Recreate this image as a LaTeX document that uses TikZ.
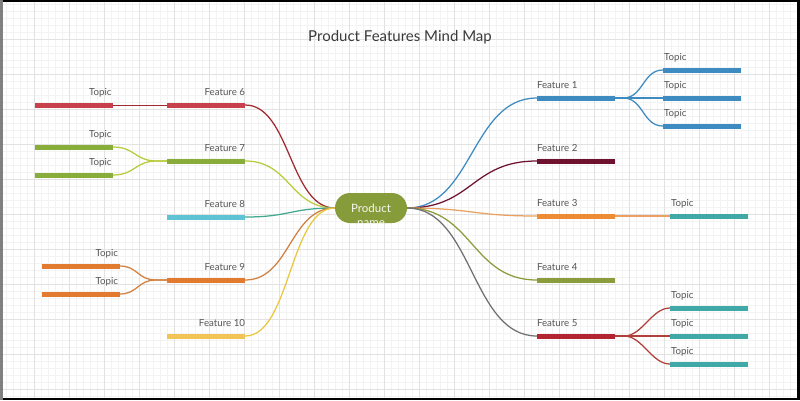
\documentclass[tikz,border=0pt]{standalone}
\usepackage{fontspec}
\setmainfont{Lato}
\definecolor{gmin}{HTML}{F3F3F3}
\definecolor{gmaj}{HTML}{E2E2E2}
\definecolor{txt}{HTML}{555555}
\definecolor{ttl}{HTML}{3A3A3A}
\definecolor{cnode}{HTML}{869B3A}
\definecolor{cblue}{HTML}{3D8BC0}
\definecolor{cmaroon}{HTML}{6E1230}
\definecolor{corange}{HTML}{EC8D35}
\definecolor{corangel}{HTML}{E9A060}
\definecolor{colive}{HTML}{8B9C3C}
\definecolor{cred}{HTML}{B22531}
\definecolor{cgray}{HTML}{707070}
\definecolor{cteal}{HTML}{40A9A8}
\definecolor{credl}{HTML}{B0403A}
\definecolor{cpink}{HTML}{C9404D}
\definecolor{cdred}{HTML}{A02A30}
\definecolor{cgreen}{HTML}{88AD3B}
\definecolor{cyg}{HTML}{B8CC3A}
\definecolor{ccyan}{HTML}{5EC3D3}
\definecolor{ctg}{HTML}{40A890}
\definecolor{corg}{HTML}{E27A30}
\definecolor{corgl}{HTML}{D08040}
\definecolor{cyel}{HTML}{F2C456}
\definecolor{cyell}{HTML}{E8C840}
\begin{document}
\begin{tikzpicture}[x=1pt,y=-1pt,
  bar/.style={rectangle, inner sep=0pt, minimum width=78pt, minimum height=5pt},
  lnk/.style={line width=1.25pt},
  lblfont/.style={font=\fontsize{9.7}{11}\selectfont, text=txt, inner sep=0pt},
  lblL/.style={lblfont, anchor=base west},
  lblR/.style={lblfont, anchor=base east},
  hub/.style={rectangle, rounded corners=15pt, minimum width=72pt, minimum height=30pt, fill=cnode, inner sep=0pt}
]
\useasboundingbox (0,0) rectangle (800,400);
\fill[white] (0,0) rectangle (800,400);
% grid
\foreach \k in {0,...,115} {\draw[gmin, line width=0.6pt] (-1+7*\k,0) -- (-1+7*\k,400);}
\foreach \k in {0,...,57} {\draw[gmin, line width=0.6pt] (0,4.5+7*\k) -- (800,4.5+7*\k);}
\foreach \k in {1,...,23} {\draw[gmaj, line width=0.9pt] (-1+35*\k,0) -- (-1+35*\k,400);}
\foreach \k in {1,...,11} {\draw[gmaj, line width=0.9pt] (0,4.5+35*\k) -- (800,4.5+35*\k);}
% frame
\fill[black] (0,0) rectangle (800,2);
\fill[black] (797,0) rectangle (800,400);
\fill[black] (0,398) rectangle (800,400);
\fill[gray] (0,0) rectangle (2.5,400);

% title
\node[font=\fontsize{15}{18}\selectfont, text=ttl] (title) at (400,37) {Product Features Mind Map};

% hub
\node[hub] (c) at (371,208) {};
\begin{scope}
\clip[rounded corners=15pt] (c.south west) rectangle (c.north east);
\node[font=\fontsize{11.5}{13}\selectfont, text=white!92!cnode, anchor=base, inner sep=0pt] (cp) at (371,212.7) {Product};
\node[font=\fontsize{11.5}{13}\selectfont, text=white!92!cnode, anchor=base, inner sep=0pt] (cn) at (371,226.5) {name};
\end{scope}

% right features
\node[bar, fill=cblue] (f1) at (576,98) {};
\node[bar, fill=cmaroon] (f2) at (576,161) {};
\node[bar, fill=corange] (f3) at (576,216) {};
\node[bar, fill=colive] (f4) at (576,280) {};
\node[bar, fill=cred] (f5) at (576,336) {};
\node[lblL] at ([yshift=9.5pt]f1.west) {Feature 1};
\node[lblL] at ([yshift=9.5pt]f2.west) {Feature 2};
\node[lblL] at ([yshift=9.5pt]f3.west) {Feature 3};
\node[lblL] at ([yshift=9.5pt]f4.west) {Feature 4};
\node[lblL] at ([yshift=9.5pt]f5.west) {Feature 5};
% right topics
\node[bar, fill=cblue] (t11) at (702,70) {};
\node[bar, fill=cblue] (t12) at (702,98) {};
\node[bar, fill=cblue] (t13) at (702,126) {};
\node[bar, fill=cteal] (t31) at (709,216) {};
\node[bar, fill=cteal] (t51) at (709,308) {};
\node[bar, fill=cteal] (t52) at (709,336) {};
\node[bar, fill=cteal] (t53) at (709,364) {};
\foreach \t in {t11,t12,t13,t31,t51,t52,t53} {\node[lblL] at ([xshift=1pt,yshift=9.5pt]\t.west) {Topic};}

% left features
\node[bar, fill=cpink] (f6) at (206,105) {};
\node[bar, fill=cgreen] (f7) at (206,161) {};
\node[bar, fill=ccyan] (f8) at (206,217) {};
\node[bar, fill=corg] (f9) at (206,280) {};
\node[bar, fill=cyel] (f10) at (206,336) {};
\node[lblR] at ([yshift=9.5pt]f6.east) {Feature 6};
\node[lblR] at ([yshift=9.5pt]f7.east) {Feature 7};
\node[lblR] at ([yshift=9.5pt]f8.east) {Feature 8};
\node[lblR] at ([yshift=9.5pt]f9.east) {Feature 9};
\node[lblR] at ([yshift=9.5pt]f10.east) {Feature 10};
% left topics
\node[bar, fill=cpink] (t61) at (74,105) {};
\node[bar, fill=cgreen] (t71) at (74,147) {};
\node[bar, fill=cgreen] (t72) at (74,175) {};
\node[bar, fill=corg] (t91) at (80.5,266) {};
\node[bar, fill=corg] (t92) at (80.5,294) {};
\foreach \t in {t61,t71,t72,t91,t92} {\node[lblR] at ([xshift=-1.5pt,yshift=9.5pt]\t.east) {Topic};}

% hub links right
\draw[lnk, cblue] (c.east) .. controls +(65.5,0) and +(-65.5,0) .. (f1.west);
\draw[lnk, cmaroon] (c.east) .. controls +(65.5,0) and +(-65.5,0) .. (f2.west);
\draw[lnk, corangel] (c.east) .. controls +(65.5,0) and +(-65.5,0) .. (f3.west);
\draw[lnk, colive] (c.east) .. controls +(65.5,0) and +(-65.5,0) .. (f4.west);
\draw[lnk, cgray] (c.east) .. controls +(65.5,0) and +(-65.5,0) .. (f5.west);
% hub links left
\draw[lnk, cdred] (c.west) .. controls +(-45,0) and +(45,0) .. (f6.east);
\draw[lnk, cyg] (c.west) .. controls +(-45,0) and +(45,0) .. (f7.east);
\draw[lnk, ctg] (c.west) .. controls +(-45,0) and +(45,0) .. (f8.east);
\draw[lnk, corgl] (c.west) .. controls +(-45,0) and +(45,0) .. (f9.east);
\draw[lnk, cyell] (c.west) .. controls +(-45,0) and +(45,0) .. (f10.east);

% topic links right
\foreach \t in {t11,t12,t13} {\draw[lnk, cblue] (f1.east) -- ++(8,0) .. controls +(20,0) and +(-20,0) .. (\t.west);}
\draw[lnk, corangel] (f3.east) -- (t31.west);
\foreach \t in {t51,t52,t53} {\draw[lnk, credl] (f5.east) -- ++(9,0) .. controls +(18,0) and +(-18,0) .. (\t.west);}
% topic links left
\draw[cdred, line width=1pt] (t61.east) -- (f6.west);
\foreach \t in {t71,t72} {\draw[lnk, cyg] (f7.west) -- ++(-10,0) .. controls +(-22,0) and +(22,0) .. (\t.east);}
\foreach \t in {t91,t92} {\draw[lnk, corgl] (f9.west) -- ++(-11,0) .. controls +(-18,0) and +(18,0) .. (\t.east);}
\end{tikzpicture}
\end{document}
